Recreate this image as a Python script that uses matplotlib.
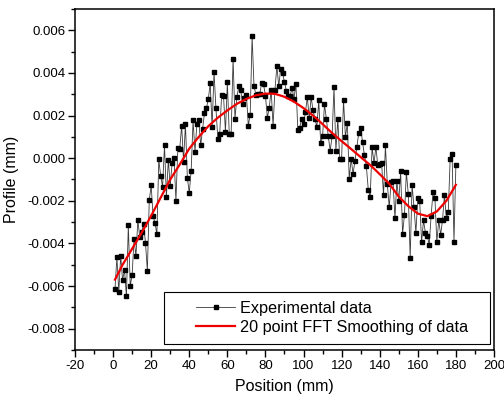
#!/usr/bin/env python3
"""Surface profile along position - raw points and 20 point FFT smoothing"""

import numpy as np
import matplotlib
matplotlib.use('Agg')
import matplotlib.pyplot as plt
from matplotlib.patches import Rectangle
from matplotlib.ticker import MultipleLocator, FormatStrFormatter

plt.rcParams['font.family'] = ['Liberation Sans', 'DejaVu Sans']
plt.rcParams['axes.unicode_minus'] = False

# Experimental data, position 1..180 mm, profile in units of 0.001 mm
position = np.arange(1, 181)
profile_um = [
    -6.15, -4.65, -6.27, -4.57, -5.73, -5.24, -6.49, -3.15, -5.99, -5.49,
    -3.80, -4.60, -2.91, -3.71, -3.47, -3.07, -3.96, -5.29, -1.97, -1.28,
    -2.72, -3.05, -3.57, -0.06, -0.85, -1.33, 0.60, -1.83, -0.08, -1.30,
    -0.23, 0.03, -2.00, 0.47, 0.44, 1.53, -0.16, 1.61, -0.92, -1.63,
    -0.58, 1.77, 0.31, 1.58, 1.77, 0.60, 1.38, 2.13, 2.35, 2.76,
    3.52, 1.46, 4.04, 2.35, 0.91, 1.15, 2.98, 2.91, 1.22, 3.57,
    1.15, 1.15, 4.67, 1.85, 2.86, 3.37, 3.21, 2.52, 2.80, 2.98,
    1.53, 2.04, 5.73, 3.37, 2.98, 3.00, 3.00, 3.52, 3.47, 2.94,
    1.90, 2.36, 3.21, 1.53, 3.21, 4.32, 3.37, 4.20, 3.99, 3.57,
    3.15, 2.90, 2.94, 3.30, 2.79, 3.49, 1.33, 1.43, 1.85, 1.58,
    2.16, 2.86, 1.88, 2.86, 2.24, 1.85, 1.46, 2.71, 0.70, 1.02,
    2.52, 1.85, 1.02, 0.36, 1.02, 3.33, 0.36, 1.85, -0.03, -0.03,
    2.74, 0.99, 1.64, -0.97, -0.03, -0.73, -0.14, 0.52, 1.19, 1.43,
    0.75, 0.13, -0.39, -1.48, -1.83, 0.52, -0.23, 0.52, -0.34, -0.26,
    -0.23, -1.75, 0.60, -1.20, -2.30, -1.13, -1.09, -2.82, -1.05, -2.03,
    -0.62, -3.55, -2.66, -0.66, -1.67, -4.69, -1.25, -2.30, -3.50, -1.88,
    -2.03, -3.94, -2.92, -3.50, -3.63, -4.07, -2.69, -1.60, -1.88, -3.94,
    -2.92, -3.60, -2.88, -1.72, -2.82, -2.53, -0.03, 0.21, -3.91, -0.31,
]

# Smoothed curve
smooth_x = [1, 5, 10, 15, 20, 25, 30, 35, 40, 45, 50, 55, 60, 65, 70, 75,
            80, 85, 90, 95, 100, 105, 110, 115, 120, 125, 130, 135, 140,
            145, 150, 155, 160, 165, 170, 175, 180]
smooth_um = [-5.70, -5.00, -4.25, -3.50, -2.70, -1.85, -1.00, -0.30, 0.45,
             1.00, 1.50, 1.90, 2.24, 2.55, 2.78, 2.95, 3.03, 3.02, 2.88,
             2.65, 2.35, 2.00, 1.60, 1.18, 0.80, 0.43, 0.05, -0.32, -0.75,
             -1.20, -1.80, -2.25, -2.60, -2.72, -2.50, -2.00, -1.25]

profile = np.array(profile_um) / 1000.0
smooth = np.array(smooth_um) / 1000.0

fig = plt.figure(figsize=(5.04, 4.01), dpi=100)
ax = fig.add_axes([0.1488, 0.1272, 0.8313, 0.8504])

ax.plot(position, profile, '-', color='#3a3a3a', linewidth=0.6,
        marker='s', markersize=3.0, markerfacecolor='black',
        markeredgecolor='black', label='Experimental data')
ax.plot(smooth_x, smooth, '-', color='#ee0000', linewidth=1.6,
        label='20 point FFT Smoothing of data')

ax.set_xlim(-20, 200)
ax.set_ylim(-0.009, 0.007)
ax.xaxis.set_major_locator(MultipleLocator(20))
ax.xaxis.set_minor_locator(MultipleLocator(10))
ax.yaxis.set_major_locator(MultipleLocator(0.002))
ax.yaxis.set_minor_locator(MultipleLocator(0.001))
ax.yaxis.set_major_formatter(FormatStrFormatter('%.3f'))

ax.tick_params(which='both', direction='out', top=False, right=False,
               labelsize=9.5, width=1.0, colors='black')
ax.tick_params(which='major', length=5, pad=2)
ax.tick_params(which='minor', length=3)
for sp in ax.spines.values():
    sp.set_linewidth(1.1)

ax.set_xlabel('Position (mm)', fontsize=11.5, labelpad=5)
ax.set_ylabel('Profile (mm)', fontsize=11.5, labelpad=6)

# Legend box drawn separately so the padding matches
ax.add_patch(Rectangle((0.2124, 0.0176), 0.7776, 0.1524, transform=ax.transAxes,
                       facecolor='white', edgecolor='black', linewidth=0.8,
                       zorder=4))
leg = ax.legend(loc='center left', bbox_to_anchor=(0.288, 0.094), frameon=False,
                fontsize=11.7, numpoints=1, handlelength=2.45,
                handletextpad=0.3, labelspacing=0.25, borderpad=0,
                borderaxespad=0)
leg.set_zorder(5)

fig.savefig('out.png', dpi=100)
